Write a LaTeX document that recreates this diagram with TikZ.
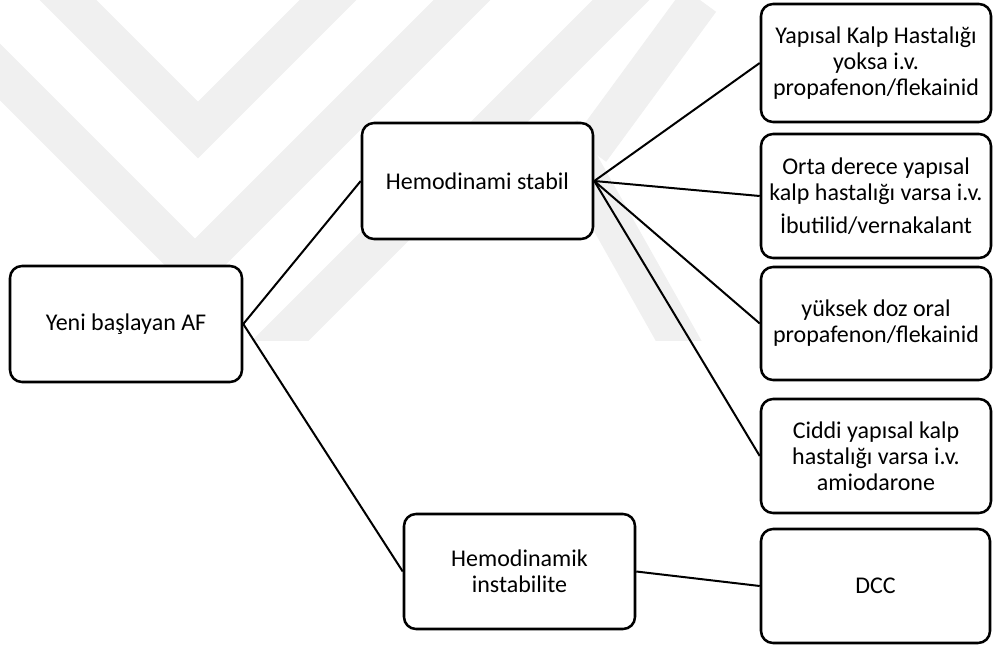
\documentclass[tikz,border=0pt]{standalone}
\usepackage{fontspec}
\setmainfont{Carlito}
\begin{document}
\begin{tikzpicture}[x=0.75pt,y=-0.75pt,
  box/.style={draw=black, line width=1.9pt, rounded corners=9pt, fill=white,
    align=center, inner sep=0pt, font=\fontsize{18}{19.5}\selectfont},
  sz/.style 2 args={minimum width=#1*0.75pt, minimum height=#2*0.75pt},
  link/.style={draw=black, line width=1.5pt},
  wm/.style={draw=black!6, line width=30pt}]
\useasboundingbox (0,0) rectangle (993,645);
% faint watermark
\begin{scope}
  \clip (0,0) rectangle (993,341);
  \draw[wm] (-40,32) -- (195,267) -- (483,-21);
  \draw[wm] (48,-20) -- (198,130) -- (348,-20);
  \draw[wm] (260,361) -- (641,-20);
  \draw[wm] (560,130) -- (690,361);
  \draw[wm] (590,150) -- (700,0);
\end{scope}
% nodes
\node[box, sz={232}{116}] (a)  at (126,324)   {Yeni başlayan AF};
\node[box, sz={231}{116}] (b)  at (477.5,181) {Hemodinami stabil};
\node[box, sz={230}{118}] (c1) at (876,63)    {Yapısal Kalp Hastalığı\\yoksa i.v.\\propafenon/flekainid};
\node[box, sz={230}{124}] (c2) at (876,196)   {Orta derece yapısal\\kalp hastalığı varsa i.v.\\[5pt]İbutilid/vernakalant};
\node[box, sz={230}{113}] (c3) at (876,323.5) {yüksek doz oral\\propafenon/flekainid};
\node[box, sz={230}{114}] (c4) at (876,456)   {Ciddi yapısal kalp\\hastalığı varsa i.v.\\amiodarone};
\node[box, sz={231}{115}] (d)  at (519.5,571.5) {Hemodinamik\\instabilite};
\node[box, sz={229}{114}] (e)  at (875.5,586) {DCC};
% connectors
\draw[link] (a.east) -- (b.west);
\draw[link] (a.east) -- (d.west);
\draw[link] (b.east) -- (c1.west);
\draw[link] (b.east) -- (c2.west);
\draw[link] (b.east) -- (c3.west);
\draw[link] (b.east) -- (c4.west);
\draw[link] (d.east) -- (e.west);
\end{tikzpicture}
\end{document}
